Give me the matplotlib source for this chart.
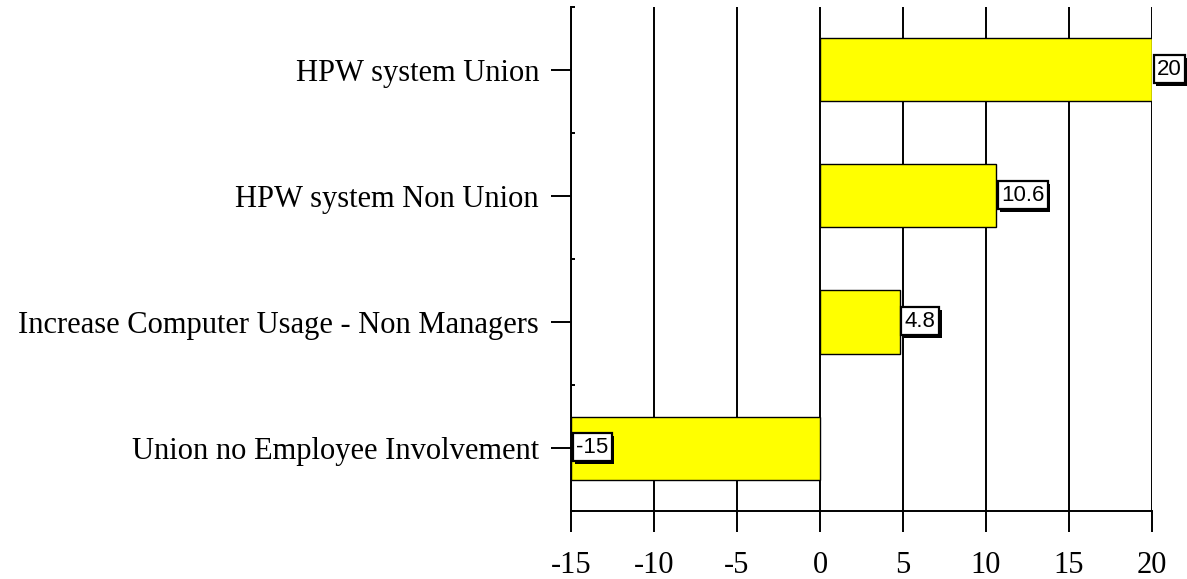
import matplotlib
matplotlib.use("Agg")
import matplotlib.pyplot as plt
import matplotlib.patheffects as pe
import numpy as np

categories = ["HPW system Union", "HPW system Non Union",
              "Increase Computer Usage - Non Managers", "Union no Employee Involvement"]
values = [20, 10.6, 4.8, -15]
value_labels = ["20", "10.6", "4.8", "-15"]
xticks = [-15, -10, -5, 0, 5, 10, 15, 20]

fig = plt.figure(figsize=(11.87, 5.79), dpi=100)
ax = fig.add_axes([0.481, 0.1174, 0.4895, 0.8706])

y = np.arange(len(categories))
ax.barh(y, values, height=0.5, color="#ffff00", edgecolor="black", linewidth=1, zorder=3)

ax.set_xlim(-15, 20)
ax.set_ylim(len(categories) - 0.5, -0.5)
ax.set_xticks(xticks)
ax.set_xticklabels([str(t) for t in xticks], fontfamily="Liberation Serif", fontsize=22)
ax.set_yticks(y)
ax.set_yticklabels(categories, fontfamily="Liberation Serif", fontsize=22)
ax.set_yticks(np.arange(-0.5, len(categories)), minor=True)

for xv in xticks:
    ax.axvline(xv, color="black", linewidth=1.4, zorder=1)

ax.spines["top"].set_visible(False)
ax.spines["right"].set_visible(False)
ax.spines["left"].set_linewidth(1.4)
ax.spines["bottom"].set_linewidth(1.4)
ax.tick_params(axis="x", direction="out", length=15, width=1.4, pad=14)
ax.tick_params(axis="y", which="major", direction="out", length=14.5, width=1.4, pad=8.5)
ax.tick_params(axis="y", which="minor", direction="in", length=3, width=1.4)

for yi, v, lab in zip(y, values, value_labels):
    t = ax.annotate(lab, xy=(v, yi), xytext=(3.6, 0.5), textcoords="offset points",
                    ha="left", va="center", fontsize=16,
                    fontfamily="Liberation Sans", zorder=5,
                    bbox=dict(boxstyle="square,pad=0.15", facecolor="white",
                              edgecolor="black", linewidth=1.6))
    t.get_bbox_patch().set_path_effects([
        pe.SimplePatchShadow(offset=(2, -2), shadow_rgbFace="black", alpha=1),
        pe.Normal()])

fig.savefig("out.png", dpi=100)
